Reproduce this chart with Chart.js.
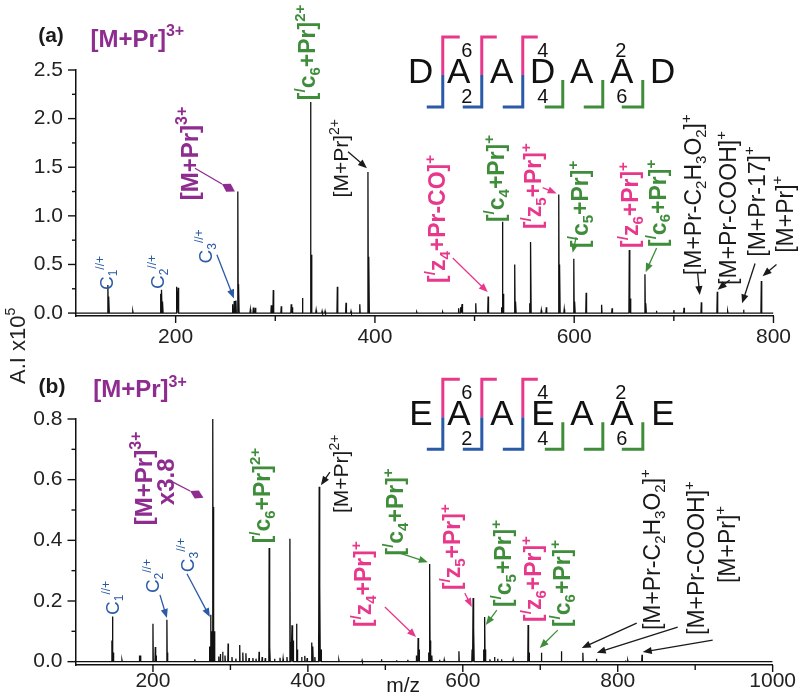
<!DOCTYPE html>
<html><head><meta charset="utf-8">
<script src="https://cdn.jsdelivr.net/npm/chart.js@4.4.1/dist/chart.umd.min.js"></script>
<style>
html,body{margin:0;padding:0;background:#fff;}
#wrap{position:relative;width:800px;height:698px;overflow:hidden;}
canvas{position:absolute;left:0;top:0;}
</style></head><body>
<div id="wrap"><canvas id="ca" width="800" height="698"></canvas><canvas id="cb" width="800" height="698"></canvas></div>
<script>
// ---------- DATA ----------
// panel (a): DAADAAD  [m/z, intensity x1e5]
const peaksA = [[132,0.29],[133,0.17],[157,0.02],[185,0.2],[186,0.24],[187,0.12],[201,0.27],[202.6,0.26],
 [257,0.09],[258.8,0.125],[260.5,0.13],[262.4,1.25],[263.3,0.3],[275,0.036],[278,0.057],[280,0.055],
 [296,0.08],[298,0.236],[306,0.07],[316,0.09],[317,0.06],[327.3,0.154],[335.4,2.17],[336.4,0.6],
 [341,0.03],[347,0.02],[350,0.02],[362.3,0.27],[371,0.107],[376,0.02],[384.8,0.09],[393,1.45],[394,0.58],
 [442,0.01],[468,0.01],[484,0.05],[486,0.06],[487.5,0.093],[501.2,0.1],[513.6,0.17],[527,0.06],[528,0.94],[529,0.2],
 [540.3,0.5],[541.3,0.12],[555.4,0.1],[556.4,0.73],[567,0.03],[572,0.06],[584.5,1.22],[585.5,0.5],[590,0.04],
 [599.6,0.56],[600.6,0.12],[612,0.21],[627.5,0.085],[638,0.05],[655.3,0.65],[656.3,0.15],[671,0.4],[672,0.1],
 [682.5,0.025],[700,0.03],[710.2,0.055],[727.6,0.11],[743.6,0.22],[754,0.02],[770,0.035],[787.8,0.33]];
// panel (b): EAAEAAE
const peaksB = [[147,0.07],[148,0.149],[149,0.03],[160,0.005],[182.5,0.02],[184,0.02],[200,0.125],[203,0.048],[204,0.02],
 [218,0.138],[219,0.03],[254,0.008],[273,0.05],[274.5,0.155],[276,0.1],[277.4,0.8],[278.3,0.51],[279.5,0.1],
 [285,0.017],[287,0.025],[290,0.033],[293,0.02],[297,0.06],[302,0.015],[307,0.01],[312,0.055],[316,0.03],[320,0.028],
 [324,0.012],[329,0.012],[333,0.01],[337,0.033],[341,0.015],[345,0.012],[350,0.375],[351,0.05],[357,0.01],[364,0.013],
 [368,0.01],[373,0.015],[376.8,0.405],[378,0.065],[379.5,0.12],[381,0.07],[385.4,0.125],[386.5,0.04],[392,0.015],
 [396,0.019],[399,0.012],[405,0.063],[406.5,0.05],[409,0.015],[413.5,0.09],[414.6,0.577],[415.6,0.25],[417,0.04],
 [440,0.005],[470,0.004],[495,0.008],[514.5,0.005],[529,0.006],[540,0.02],[542.3,0.078],[543.5,0.04],[556,0.03],
 [557.4,0.322],[558.5,0.07],[560,0.02],[570,0.006],[576,0.006],[595,0.034],[612,0.04],[613.3,0.21],[614.3,0.11],
 [627,0.04],[628.4,0.147],[629.5,0.04],[635,0.008],[641,0.015],[645,0.01],[650,0.008],[665,0.006],[684.3,0.121],
 [685.5,0.03],[701.5,0.029],[727.3,0.034],[755,0.029],[772.5,0.01],[810,0.004],[813,0.004],[831.4,0.023]];
const xTicksA = [200,400,600,800], xMinorA = [300,500,700];
const xTicksB = [200,400,600,800,1000], xMinorB = [300,500,700,900];
const yTicksA = [0,0.5,1.0,1.5,2.0,2.5], yMinorA = [0.25,0.75,1.25,1.75,2.25];
const yTicksB = [0,0.2,0.4,0.6,0.8], yMinorB = [0.1,0.3,0.5,0.7];
const seqA = ['D','A','A','D','A','A','D'];
const seqB = ['E','A','A','E','A','A','E'];

// ---------- STYLE ----------
const FAM = '"Liberation Sans", Arial, Helvetica, sans-serif';
const PUR='#8E2C8F', GRN='#3F8D3B', PNK='#E8388B', BLU='#2A5AA8', BLK='#1a1a1a';

// annotations (positions in data units: m/z, intensity)
const labelsA = [
 {t:'(a)', x:74.9, y:2.87, s:21, b:true, c:BLK, r:false},
 {t:'[M+Pr]^{3+}', x:161.6, y:2.83, s:24, b:true, c:PUR, r:false},
 {t:'[M+Pr]^{3+}', x:213.3, y:1.16, s:24, b:true, c:PUR, r:true},
 {t:'[^{/}c_{6}+Pr]^{2+}', x:331.7, y:2.19, s:23, b:true, c:GRN, r:true},
 {t:'[M+Pr]^{2+}', x:365.8, y:1.19, s:21, b:false, c:BLK, r:true},
 {t:'C_{1}^{//+}', x:130.1, y:0.237, s:19, b:false, c:BLU, r:true},
 {t:'C_{2}^{//+}', x:181.7, y:0.247, s:19, b:false, c:BLU, r:true},
 {t:'C_{3}^{//+}', x:229.4, y:0.51, s:19, b:false, c:BLU, r:true},
 {t:'[^{/}z_{4}+Pr-CO]^{+}', x:462.1, y:0.31, s:23, b:true, c:PNK, r:true},
 {t:'[^{/}c_{4}+Pr]^{+}', x:521.3, y:0.936, s:23, b:true, c:GRN, r:true},
 {t:'[^{/}z_{5}+Pr]^{+}', x:558.4, y:0.864, s:23, b:true, c:PNK, r:true},
 {t:'[^{/}c_{5}+Pr]^{+}', x:605.5, y:0.67, s:23, b:true, c:GRN, r:true},
 {t:'[^{/}z_{6}+Pr]^{+}', x:655.7, y:0.67, s:23, b:true, c:PNK, r:true},
 {t:'[^{/}c_{6}+Pr]^{+}', x:683.7, y:0.68, s:23, b:true, c:GRN, r:true},
 {t:'[M+Pr-C_{2}H_{3}O_{2}]^{+}', x:718.9, y:0.39, s:23, b:false, c:BLK, r:true},
 {t:'[M+Pr-COOH]^{+}', x:754, y:0.29, s:23, b:false, c:BLK, r:true},
 {t:'[M+Pr-17]^{+}', x:783, y:0.58, s:23, b:false, c:BLK, r:true},
 {t:'[M+Pr]^{+}', x:811, y:0.62, s:23, b:false, c:BLK, r:true}
];
const arrowsA = [
 {f:[219.4,1.49], to:[259.5,1.25], c:PUR, h:'diamond'},
 {f:[373,1.66], to:[392,1.49], c:BLK},
 {f:[241.4,0.6], to:[258.5,0.15], c:BLU},
 {f:[478.1,0.566], to:[513.2,0.216], c:PNK},
 {f:[568.4,1.29], to:[582.4,1.23], c:PNK},
 {f:[602,0.78], to:[598.5,0.62], c:GRN},
 {f:[682.7,0.67], to:[671.7,0.42], c:GRN},
 {f:[723.9,0.41], to:[726,0.185], c:BLK},
 {f:[756,0.34], to:[744,0.24], c:BLK},
 {f:[781.5,0.51], to:[768.5,0.10], c:BLK},
 {f:[803,0.50], to:[789,0.38], c:BLK}
];
const labelsB = [
 {t:'(b)', x:69.7, y:0.911, s:21, b:true, c:BLK, r:false},
 {t:'[M+Pr]^{3+}', x:183.2, y:0.90, s:24, b:true, c:PUR, r:false},
 {t:'[M+Pr]^{3+}', x:187.1, y:0.45, s:24, b:true, c:PUR, r:true},
 {t:'x3.8', x:215.5, y:0.516, s:24, b:true, c:PUR, r:true},
 {t:'[^{/}c_{6}+Pr]^{2+}', x:340.6, y:0.39, s:23, b:true, c:GRN, r:true},
 {t:'[M+Pr]^{2+}', x:442.6, y:0.49, s:21, b:false, c:BLK, r:true},
 {t:'C_{1}^{//+}', x:147.2, y:0.154, s:19, b:false, c:BLU, r:true},
 {t:'C_{2}^{//+}', x:199.4, y:0.226, s:19, b:false, c:BLU, r:true},
 {t:'C_{3}^{//+}', x:243.9, y:0.295, s:19, b:false, c:BLU, r:true},
 {t:'[^{/}z_{4}+Pr]^{+}', x:471, y:0.114, s:23, b:true, c:PNK, r:true},
 {t:'[^{/}c_{4}+Pr]^{+}', x:512.4, y:0.35, s:23, b:true, c:GRN, r:true},
 {t:'[^{/}z_{5}+Pr]^{+}', x:586.2, y:0.236, s:23, b:true, c:PNK, r:true},
 {t:'[^{/}c_{5}+Pr]^{+}', x:651.6, y:0.18, s:23, b:true, c:GRN, r:true},
 {t:'[^{/}z_{6}+Pr]^{+}', x:690.3, y:0.131, s:23, b:true, c:PNK, r:true},
 {t:'[^{/}c_{6}+Pr]^{+}', x:727.7, y:0.114, s:23, b:true, c:GRN, r:true},
 {t:'[M+Pr-C_{2}H_{3}O_{2}]^{+}', x:843.9, y:0.104, s:23, b:false, c:BLK, r:true},
 {t:'[M+Pr-COOH]^{+}', x:900.7, y:0.088, s:23, b:false, c:BLK, r:true},
 {t:'[M+Pr]^{+}', x:940.6, y:0.259, s:23, b:false, c:BLK, r:true},
 {t:'m/z', x:523, y:-0.074, s:21, b:false, c:BLK, r:false}
];
const arrowsB = [
 {f:[225.8,0.592], to:[265.2,0.54], c:PUR, h:'diamond'},
 {f:[428.4,0.625], to:[416.8,0.582], c:BLK},
 {f:[209,0.22], to:[218,0.144], c:BLU},
 {f:[243.9,0.29], to:[273.5,0.147], c:BLU},
 {f:[499.4,0.18], to:[539.7,0.081], c:PNK},
 {f:[518.7,0.358], to:[554.9,0.328], c:GRN},
 {f:[602.6,0.226], to:[611.6,0.18], c:PNK},
 {f:[643.9,0.17], to:[629.7,0.121], c:GRN},
 {f:[722.6,0.104], to:[699.3,0.045], c:GRN},
 {f:[824.5,0.127], to:[753.5,0.045], c:BLK},
 {f:[877.4,0.114], to:[772.9,0.029], c:BLK},
 {f:[922.6,0.071], to:[832.3,0.032], c:BLK}
];

// ---------- helpers ----------
function parseRich(s){
  const out=[]; let i=0, buf='';
  while(i<s.length){
    const ch=s[i];
    if((ch==='^'||ch==='_') && s[i+1]==='{'){
      if(buf){out.push({t:buf,m:0});buf='';}
      const j=s.indexOf('}',i+2);
      out.push({t:s.slice(i+2,j), m: ch==='^'?1:-1});
      i=j+1;
    } else {buf+=ch;i++;}
  }
  if(buf) out.push({t:buf,m:0});
  return out;
}
function drawRich(ctx, s, x, y, o){
  const segs=parseRich(s), S=o.s, w=o.b?'bold ':'', ss=Math.round(S*0.65);
  let total=0; const ws=[];
  segs.forEach(g=>{ctx.font=w+(g.m?ss:S)+'px '+FAM; const wd=ctx.measureText(g.t).width; ws.push(wd); total+=wd;});
  ctx.save(); ctx.translate(x,y); if(o.r) ctx.rotate(-Math.PI/2);
  ctx.fillStyle=o.c; ctx.textBaseline='alphabetic'; ctx.textAlign='left';
  let cx = o.r ? 0 : -total/2;
  const base=S*0.36;
  segs.forEach((g,k)=>{ctx.font=w+(g.m?ss:S)+'px '+FAM;
    const dy = g.m===1 ? -S*0.45 : (g.m===-1 ? S*0.2 : 0);
    ctx.fillText(g.t, cx, base+dy); cx+=ws[k];});
  ctx.restore();
}
function drawArrow(ctx,p1,p2,color,head){
  ctx.save(); ctx.strokeStyle=color; ctx.fillStyle=color; ctx.lineWidth=1.3;
  const a=Math.atan2(p2[1]-p1[1],p2[0]-p1[0]), ca=Math.cos(a), sa=Math.sin(a);
  if(head==='diamond'){
    const L=15,W=4.5; const bk=[p2[0]-L*ca,p2[1]-L*sa], mid=[p2[0]-L/2*ca,p2[1]-L/2*sa];
    ctx.beginPath(); ctx.moveTo(p1[0],p1[1]); ctx.lineTo(bk[0],bk[1]); ctx.stroke();
    ctx.beginPath(); ctx.moveTo(p2[0],p2[1]); ctx.lineTo(mid[0]-W*sa,mid[1]+W*ca); ctx.lineTo(bk[0],bk[1]); ctx.lineTo(mid[0]+W*sa,mid[1]-W*ca); ctx.closePath(); ctx.fill();
  } else {
    const L=9,W=3.6; const bk=[p2[0]-L*ca,p2[1]-L*sa];
    ctx.beginPath(); ctx.moveTo(p1[0],p1[1]); ctx.lineTo(bk[0]+2*ca,bk[1]+2*sa); ctx.stroke();
    ctx.beginPath(); ctx.moveTo(p2[0],p2[1]); ctx.lineTo(bk[0]-W*sa,bk[1]+W*ca); ctx.lineTo(bk[0]+W*sa,bk[1]-W*ca); ctx.closePath(); ctx.fill();
  }
  ctx.restore();
}
function drawSeq(ctx, x0, y0, letters){
  // x0: centre of first residue, y0: baseline
  const dx=[0,38,81,122,161,201,242];
  ctx.save(); ctx.fillStyle='#111'; ctx.textAlign='center'; ctx.textBaseline='alphabetic';
  ctx.font='35px '+FAM; letters.forEach((L,i)=>ctx.fillText(L,x0+dx[i],y0));
  ctx.font='20px '+FAM; ctx.textBaseline='middle';
  [[46,'6'],[122,'4'],[200,'2']].forEach(([d,t])=>ctx.fillText(t,x0+d,y0-32));
  [[46,'2'],[122,'4'],[201,'6']].forEach(([d,t])=>ctx.fillText(t,x0+d,y0+14));
  ctx.lineWidth=3; ctx.lineCap='butt';
  const seg=(c,pts)=>{ctx.strokeStyle=c;ctx.beginPath();ctx.moveTo(pts[0][0],pts[0][1]);for(let k=1;k<pts.length;k++)ctx.lineTo(pts[k][0],pts[k][1]);ctx.stroke();};
  [[22,17,16],[61,15,19],[102,15,20]].forEach(([d,r,l])=>{
    const X=x0+d;
    seg(PNK,[[X+r,y0-46],[X,y0-46],[X,y0-8]]);
    seg(BLU,[[X,y0-8],[X,y0+24],[X-l,y0+24]]);
  });
  [[142,18],[182,19],[222,21]].forEach(([d,l])=>{
    const X=x0+d; seg(GRN,[[X,y0-3],[X,y0+24],[X-l,y0+24]]);
  });
  ctx.restore();
}
function stick(peaks, lo, hi){
  const pts=[{x:lo,y:0}];
  peaks.slice().sort((a,b)=>a[0]-b[0]).forEach(([m,h])=>{pts.push({x:m-0.4,y:0},{x:m,y:h},{x:m+0.4,y:0});});
  pts.push({x:hi,y:0}); return pts;
}
function makePlugin(id, labels, arrows, xMaj, xMin, yMaj, yMin, seq, seqAnchor, extra){
  return {id:'deco'+id, afterDraw(chart){
    const ctx=chart.ctx, xs=chart.scales.x, ys=chart.scales.y, ca=chart.chartArea;
    const P=(m,v)=>[xs.getPixelForValue(m), ys.getPixelForValue(v)];
    ctx.save(); ctx.strokeStyle='#111'; ctx.lineWidth=1.4;
    const tick=(x1,y1,x2,y2)=>{ctx.beginPath();ctx.moveTo(x1,y1);ctx.lineTo(x2,y2);ctx.stroke();};
    xMaj.forEach(v=>{const x=xs.getPixelForValue(v); tick(x,ca.bottom,x,ca.bottom+7);});
    xMin.forEach(v=>{const x=xs.getPixelForValue(v); tick(x,ca.bottom,x,ca.bottom+5);});
    yMaj.forEach(v=>{const y=ys.getPixelForValue(v); tick(ca.left,y,ca.left-8,y);});
    yMin.forEach(v=>{const y=ys.getPixelForValue(v); tick(ca.left,y,ca.left-4,y);});
    ctx.restore();
    arrows.forEach(a=>drawArrow(ctx,P(a.f[0],a.f[1]),P(a.to[0],a.to[1]),a.c,a.h));
    labels.forEach(l=>{const p=P(l.x,l.y); drawRich(ctx,l.t,p[0],p[1],l);});
    const sp=P(seqAnchor[0],seqAnchor[1]); drawSeq(ctx, sp[0], sp[1], seq);
    if(extra) extra(ctx, chart);
  }};
}
function makeChart(canvas, peaks, xmin, xmax, ymin, ymax, xMaj, xMin, yMaj, yMin, pad, yw, xh, xpad, plugin){
  return new Chart(canvas, {
    type:'line',
    data:{datasets:[{data:stick(peaks,xmin,xmax), borderColor:'#111', borderWidth:1.3, pointRadius:0, tension:0, fill:false}]},
    options:{
      responsive:false, animation:false, events:[],
      layout:{padding:pad},
      plugins:{legend:{display:false}, tooltip:{enabled:false}},
      scales:{
        x:{type:'linear', min:xmin, max:xmax, position:'bottom',
           grid:{display:false, drawTicks:false, tickLength:0}, border:{display:true,color:'#111',width:1.5},
           afterBuildTicks:(s)=>{s.ticks=xMaj.map(v=>({value:v}));},
           afterFit:(s)=>{s.height=xh;},
           ticks:{autoSkip:false, maxRotation:0, padding:xpad, color:'#222', font:{family:FAM,size:21},
                  callback:(v)=>String(v)}},
        y:{type:'linear', min:ymin, max:ymax,
           grid:{display:false, drawTicks:false, tickLength:0}, border:{display:true,color:'#111',width:1.5},
           afterBuildTicks:(s)=>{s.ticks=yMaj.map(v=>({value:v}));},
           afterFit:(s)=>{s.width=yw;},
           ticks:{autoSkip:false, padding:13, color:'#222', font:{family:FAM,size:21},
                  callback:(v)=>Number(v).toFixed(1)}}
      }
    },
    plugins:[plugin]
  });
}
const yTitle=(ctx,chart)=>{ drawRich(ctx,'A.I x10^{5}',17,384,{s:22,b:false,c:'#222',r:true}); };
makeChart(document.getElementById('ca'), peaksA, 100, 800, -0.03, 2.5, xTicksA, xMinorA, yTicksA, yMinorA,
  {top:70,left:0,right:26,bottom:348}, 76, 34, 9,
  makePlugin('A', labelsA, arrowsA, xTicksA, xMinorA, yTicksA, yMinorA, seqA, [446,2.366], yTitle));
makeChart(document.getElementById('cb'), peaksB, 100, 1000, -0.011, 0.8, xTicksB, xMinorB, yTicksB, yMinorB,
  {top:419,left:0,right:26,bottom:0}, 75.5, 33, 4,
  makePlugin('B', labelsB, arrowsB, xTicksB, xMinorB, yTicksB, yMinorB, seqB, [545.8,0.779], null));
</script>
</body></html>
